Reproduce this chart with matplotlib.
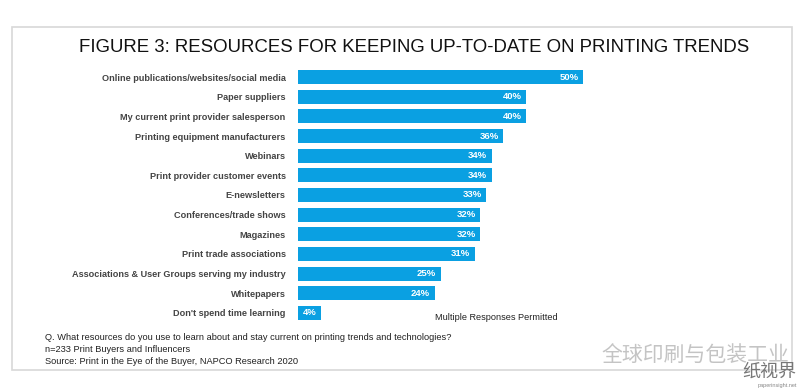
import matplotlib.pyplot as plt
from matplotlib.patches import Rectangle

categories = ["Online publications/websites/social media", "Paper suppliers",
              "My current print provider salesperson", "Printing equipment manufacturers",
              "Webinars", "Print provider customer events", "E-newsletters",
              "Conferences/trade shows", "Magazines", "Print trade associations",
              "Associations & User Groups serving my industry", "Whitepapers",
              "Don't spend time learning"]
values = [50, 40, 40, 36, 34, 34, 33, 32, 32, 31, 25, 24, 4]

plt.rcParams['font.family'] = ['Liberation Sans', 'Noto Sans CJK SC', 'DejaVu Sans']

fig = plt.figure(figsize=(8, 3.92), dpi=100)
fig.patch.set_facecolor('white')

# panel border
fig.patches.append(Rectangle((12/800, 1-370/392), 780/800, 343/392, transform=fig.transFigure,
                             fill=False, edgecolor='#d8d8d8', linewidth=1.2))

ax = fig.add_axes([298/800, 1-322.8/392, 285/800, (322.8-67.2)/392])
y = range(len(categories))
ax.barh(y, values, height=0.72, color='#0aa0e2')
ax.set_xlim(0, 50)
ax.set_ylim(len(categories)-0.5, -0.5)
for i, v in enumerate(values):
    ax.text(v - 0.8, i, f"{v}%", ha='right', va='center', color='white',
            fontsize=6.8, fontweight='bold')
ax.set_yticks(list(y))
ax.set_yticklabels(categories, fontsize=6.6, fontweight='bold', color='#444444')
ax.tick_params(axis='y', length=0, pad=9)
ax.set_xticks([])
for s in ax.spines.values():
    s.set_visible(False)

fig.text(414/800, 1-47/392, "FIGURE 3: RESOURCES FOR KEEPING UP-TO-DATE ON PRINTING TRENDS",
         ha='center', va='center', fontsize=13.4, color='#111111')
fig.text(435/800, 1-317/392, "Multiple Responses Permitted", ha='left', va='center',
         fontsize=6.6, color='#222222')

notes = ["Q. What resources do you use to learn about and stay current on printing trends and technologies?",
         "n=233 Print Buyers and Influencers",
         "Source: Print in the Eye of the Buyer, NAPCO Research 2020"]
for k, t in enumerate(notes):
    fig.text(45/800, 1-(338+11.5*k)/392, t, ha='left', va='center', fontsize=6.65, color='#222222')

# watermark
fig.text(601/800, 1-355/392, "全球印刷与包装工业", ha='left', va='center', fontsize=15,
         color='#c4c4c4')
fig.text(742/800, 1-372/392, "纸视界", ha='left', va='center', fontsize=13, color='#777777')
fig.text(758/800, 1-386/392, "paperinsight.net", ha='left', va='center', fontsize=4,
         color='#888888')

fig.savefig('out.png', dpi=100)
